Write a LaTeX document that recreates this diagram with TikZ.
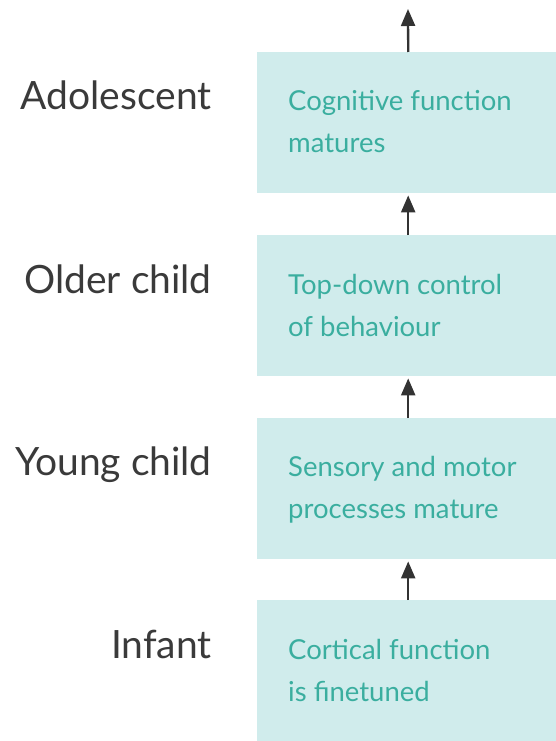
\documentclass[tikz,border=0pt]{standalone}
\usepackage{fontspec}
\setmainfont{Lato}
\usetikzlibrary{arrows.meta,calc}
\definecolor{boxfill}{HTML}{D0ECEC}
\definecolor{boxtext}{HTML}{3AAE9F}
\definecolor{labeltext}{HTML}{3A3A3A}
\definecolor{arrowcol}{HTML}{333333}
\begin{document}
\begin{tikzpicture}[x=1pt,y=-1pt,
  stagebox/.style={rectangle,fill=boxfill,draw=none,minimum width=299pt,minimum height=141pt,anchor=north west,inner sep=0pt},
  boxlabel/.style={anchor=base west,align=left,inner sep=0pt,text=boxtext,font=\fontsize{27.5}{42}\selectfont},
  agelabel/.style={anchor=base east,inner sep=0pt,text=labeltext,font=\fontsize{39}{42}\selectfont},
  uparrow/.style={draw=arrowcol,line width=2.3pt,-{Triangle[width=14pt,length=17pt]}}]
\useasboundingbox (0,0) rectangle (556,741);
\node[stagebox] (b1) at (257,52) {};
\node[stagebox] (b2) at (257,235) {};
\node[stagebox] (b3) at (257,418) {};
\node[stagebox] (b4) at (257,600) {};
\node[boxlabel] (t1) at (288,153) {Cognitive function\\matures};
\node[boxlabel] (t2) at (288,336) {Top-down control\\of behaviour};
\node[boxlabel] (t3) at (288,518) {Sensory and motor\\processes mature};
\node[boxlabel] (t4) at (288,701) {Cortical function\\is finetuned};
\node[agelabel] (l1) at (212,110) {Adolescent};
\node[agelabel] (l2) at (212,293) {Older child};
\node[agelabel] (l3) at (212,475) {Young child};
\node[agelabel] (l4) at (212,658) {Infant};
\coordinate (top) at (408,9);
\draw[uparrow] ([xshift=1.5pt]b4.north) -- ([xshift=1.5pt,yshift=-2pt]b3.south);
\draw[uparrow] ([xshift=1.5pt]b3.north) -- ([xshift=1.5pt,yshift=-2pt]b2.south);
\draw[uparrow] ([xshift=1.5pt]b2.north) -- ([xshift=1.5pt,yshift=-2pt]b1.south);
\draw[uparrow] ([xshift=1.5pt]b1.north) -- (top);
\end{tikzpicture}
\end{document}
